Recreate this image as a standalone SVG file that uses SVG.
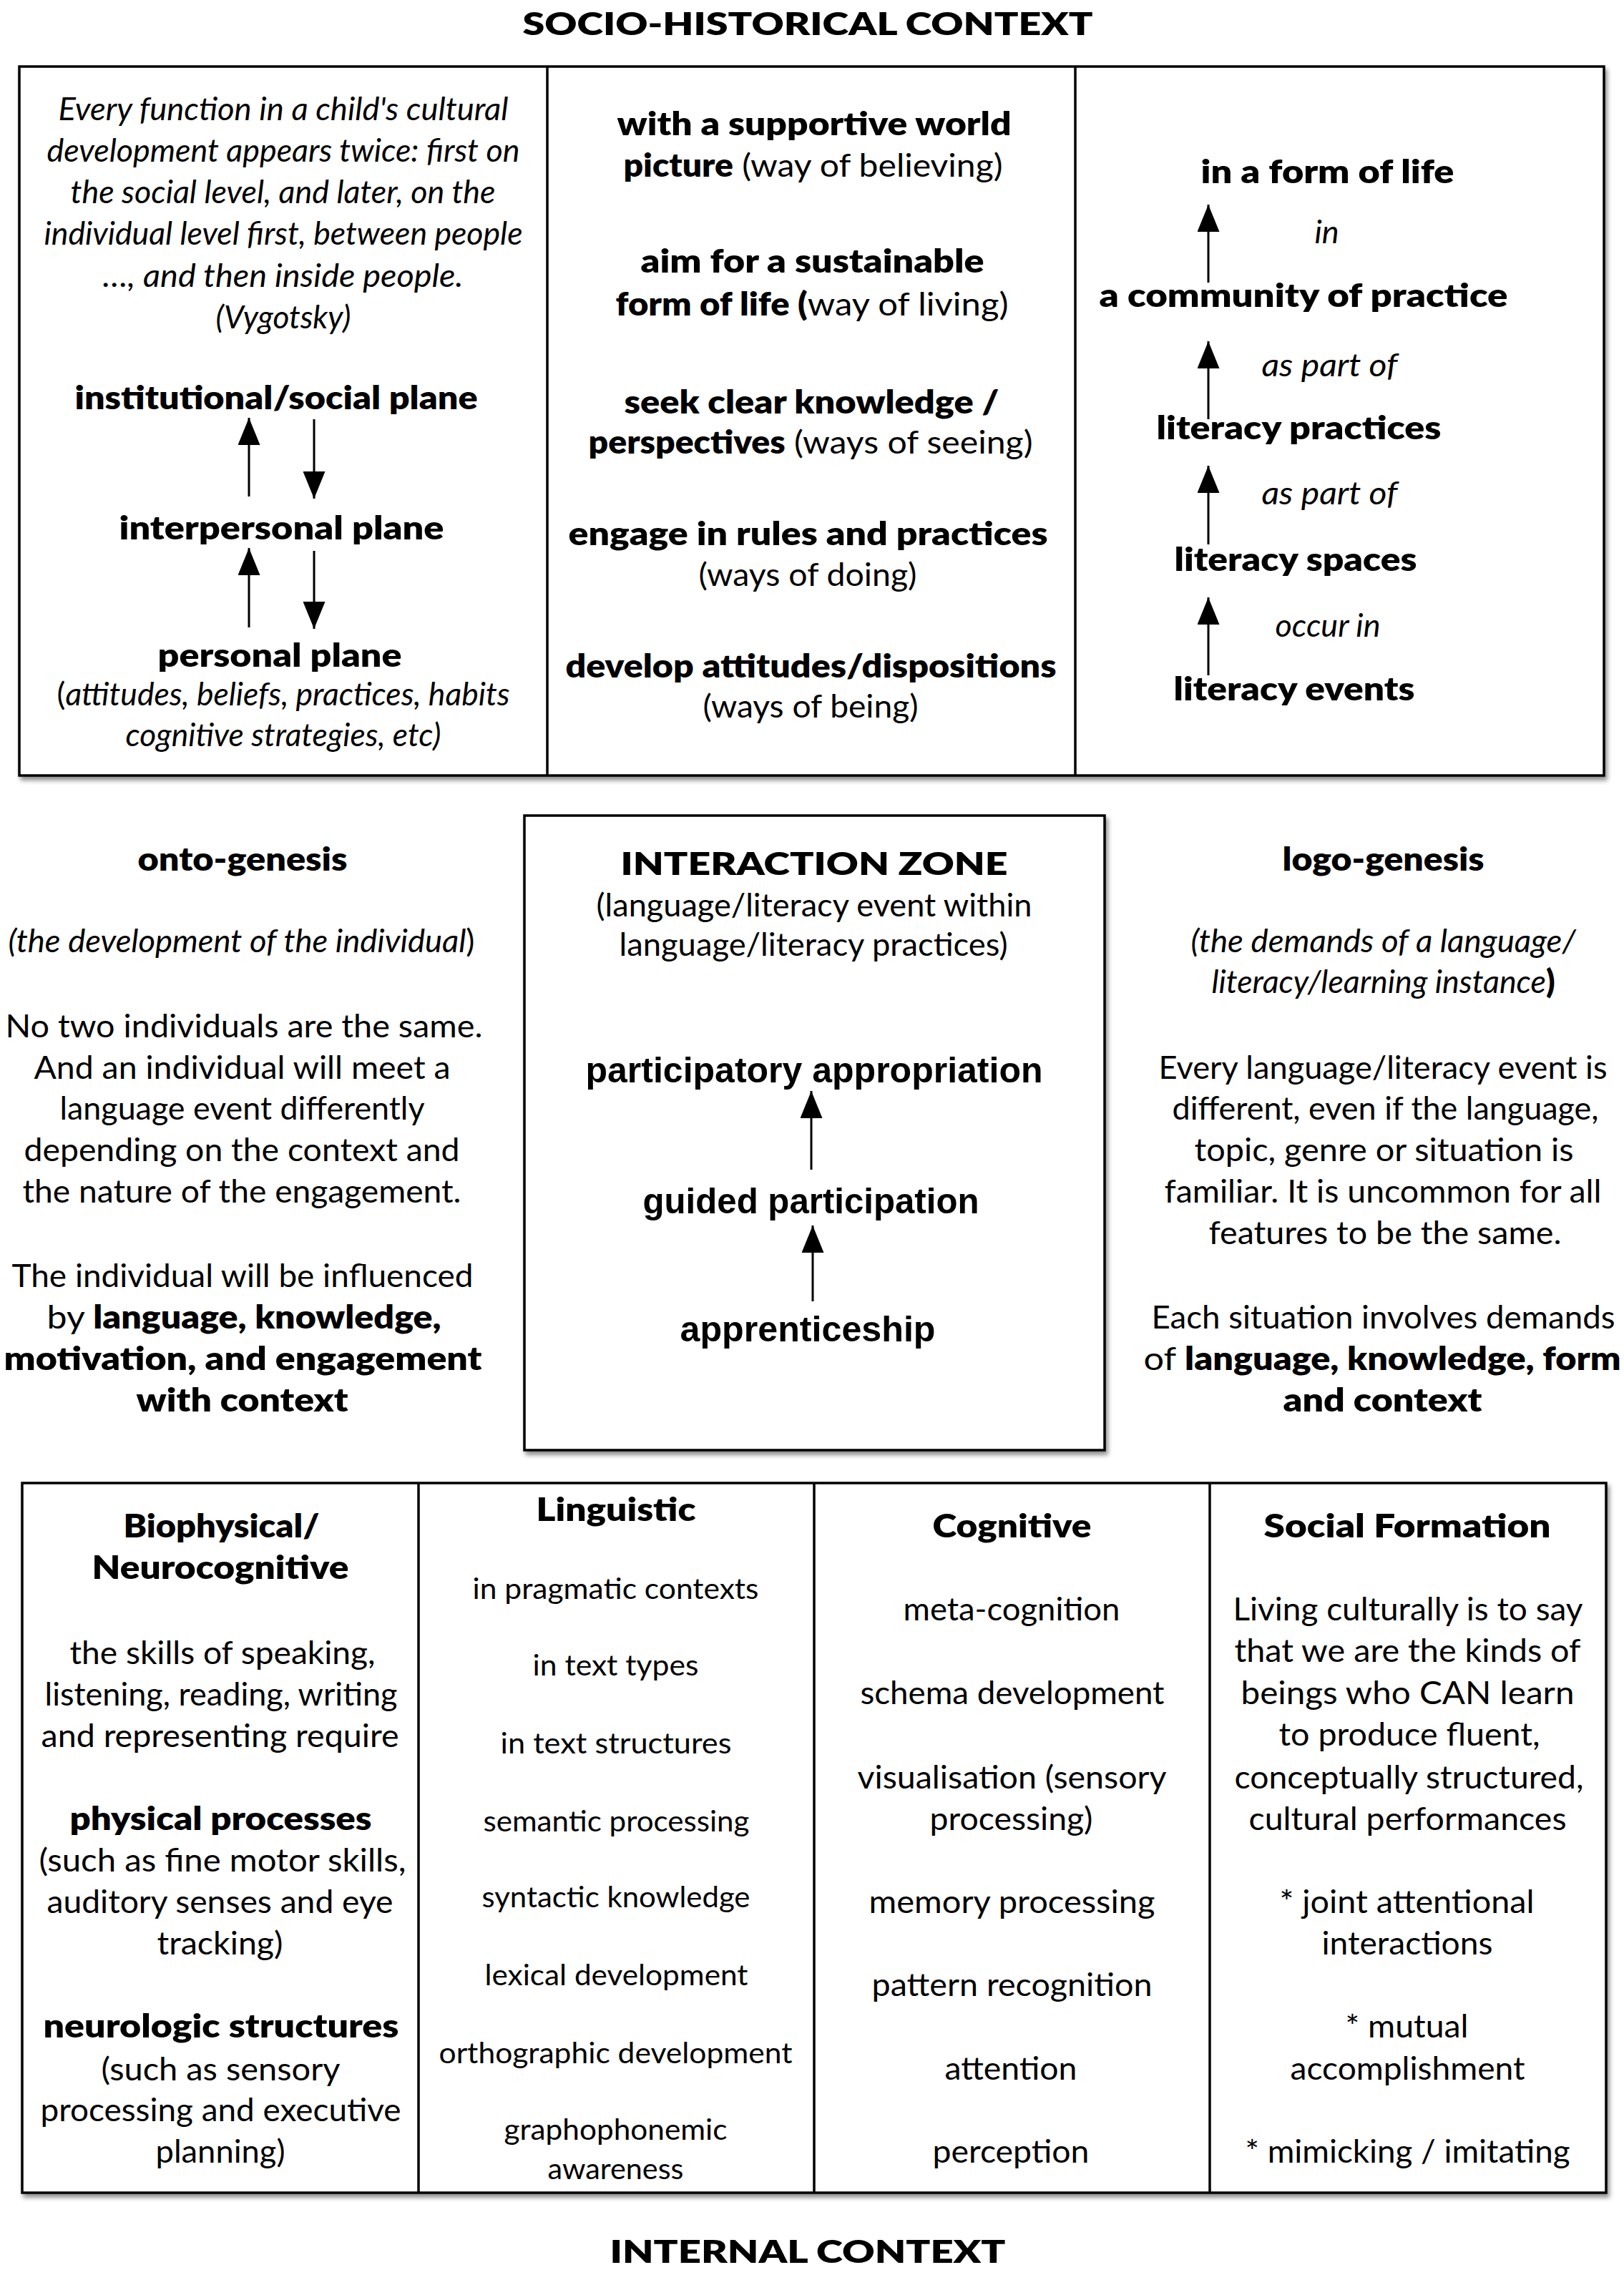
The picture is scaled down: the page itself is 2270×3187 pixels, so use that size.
<svg xmlns="http://www.w3.org/2000/svg" width="2270" height="3187" viewBox="0 0 2270 3187">
<defs>
<style>
text{font-family:Lato,"Open Sans","Liberation Sans",sans-serif;font-size:45px;fill:#000;text-anchor:middle}
.b{font-weight:800}
.i{font-style:italic}
.h{font-size:44px;font-weight:800}
.s{font-size:41px}
.a{font-family:"Liberation Sans",Arial,sans-serif;font-weight:bold;font-size:50px}
.frame{fill:#fff;stroke:#000;stroke-width:3.5}
.div{stroke:#000;stroke-width:3.5}
.arrow{stroke:#000;stroke-width:3;fill:none;marker-end:url(#ah)}
</style>
<filter id="sh" x="-5%" y="-5%" width="110%" height="110%">
<feDropShadow dx="3" dy="5" stdDeviation="3" flood-color="#000" flood-opacity="0.45"/>
</filter>
<marker id="ah" markerUnits="userSpaceOnUse" markerWidth="38" markerHeight="31" viewBox="0 0 38 31" refX="38" refY="15.5" orient="auto">
<path d="M0,0 L38,15.5 L0,31 z" fill="#000"/>
</marker>
</defs>
<rect width="2270" height="3187" fill="#fff"/>

<g id="title-socio-historical">
<text class="h" x="1129" y="49" textLength="797" lengthAdjust="spacingAndGlyphs">SOCIO-HISTORICAL CONTEXT</text>
</g>

<g id="socio-box">
<rect class="frame" x="27" y="93" width="2215" height="991" filter="url(#sh)"/>
<line class="div" x1="765" y1="93" x2="765" y2="1084"/>
<line class="div" x1="1503" y1="93" x2="1503" y2="1084"/>
</g>

<g id="vygotsky-planes">
<text class="i" x="396" y="168" textLength="629" lengthAdjust="spacingAndGlyphs">Every function in a child's cultural</text>
<text class="i" x="396" y="226" textLength="661" lengthAdjust="spacingAndGlyphs">development appears twice: first on</text>
<text class="i" x="395.5" y="284" textLength="594" lengthAdjust="spacingAndGlyphs">the social level, and later, on the</text>
<text class="i" x="396" y="342" textLength="669" lengthAdjust="spacingAndGlyphs">individual level first, between people</text>
<text class="i" x="395.5" y="401" textLength="504" lengthAdjust="spacingAndGlyphs">…, and then inside people.</text>
<text class="i" x="396" y="459" textLength="189" lengthAdjust="spacingAndGlyphs">(Vygotsky)</text>
<text class="b" x="386" y="572" textLength="563" lengthAdjust="spacingAndGlyphs">institutional/social plane</text>
<text class="b" x="393.5" y="754" textLength="454" lengthAdjust="spacingAndGlyphs">interpersonal plane</text>
<text class="b" x="391" y="932" textLength="341" lengthAdjust="spacingAndGlyphs">personal plane</text>
<text x="396" y="986" textLength="633" lengthAdjust="spacingAndGlyphs">(<tspan class="i">attitudes, beliefs, practices, habits</tspan></text>
<text class="i" x="396" y="1043" textLength="441" lengthAdjust="spacingAndGlyphs">cognitive strategies, etc)</text>
</g>

<g id="ways-of-being">
<text class="b" x="1138" y="189" textLength="551" lengthAdjust="spacingAndGlyphs">with a supportive world</text>
<text x="1136.5" y="247" textLength="530" lengthAdjust="spacingAndGlyphs"><tspan class="b">picture</tspan> (way of believing)</text>
<text class="b" x="1135.5" y="381" textLength="480" lengthAdjust="spacingAndGlyphs">aim for a sustainable</text>
<text x="1135" y="441" textLength="549" lengthAdjust="spacingAndGlyphs"><tspan class="b">form of life (</tspan>way of living)</text>
<text class="b" x="1134.5" y="578" textLength="524" lengthAdjust="spacingAndGlyphs">seek clear knowledge /</text>
<text x="1133" y="634" textLength="621" lengthAdjust="spacingAndGlyphs"><tspan class="b">perspectives</tspan> (ways of seeing)</text>
<text class="b" x="1129.5" y="762" textLength="670" lengthAdjust="spacingAndGlyphs">engage in rules and practices</text>
<text x="1129" y="819" textLength="305" lengthAdjust="spacingAndGlyphs">(ways of doing)</text>
<text class="b" x="1133.5" y="947" textLength="686" lengthAdjust="spacingAndGlyphs">develop attitudes/dispositions</text>
<text x="1133" y="1003" textLength="301" lengthAdjust="spacingAndGlyphs">(ways of being)</text>
</g>

<g id="literacy-hierarchy">
<text class="b" x="1855.5" y="256" textLength="354" lengthAdjust="spacingAndGlyphs">in a form of life</text>
<text class="i" x="1854.5" y="340">in</text>
<text class="b" x="1822" y="429" textLength="571" lengthAdjust="spacingAndGlyphs">a community of practice</text>
<text class="i" x="1858.5" y="526" textLength="190" lengthAdjust="spacingAndGlyphs">as part of</text>
<text class="b" x="1815.5" y="614" textLength="398" lengthAdjust="spacingAndGlyphs">literacy practices</text>
<text class="i" x="1858.5" y="705" textLength="190" lengthAdjust="spacingAndGlyphs">as part of</text>
<text class="b" x="1811" y="798" textLength="339" lengthAdjust="spacingAndGlyphs">literacy spaces</text>
<text class="i" x="1856" y="890" textLength="147" lengthAdjust="spacingAndGlyphs">occur in</text>
<text class="b" x="1809" y="979" textLength="337" lengthAdjust="spacingAndGlyphs">literacy events</text>
</g>

<g id="onto-genesis">
<text class="b" x="339" y="1217" textLength="293" lengthAdjust="spacingAndGlyphs">onto-genesis</text>
<text x="337.5" y="1331" textLength="652" lengthAdjust="spacingAndGlyphs"><tspan class="i">(the development of the individual</tspan>)</text>
<text x="341" y="1450" textLength="667" lengthAdjust="spacingAndGlyphs">No two individuals are the same.</text>
<text x="338.5" y="1508" textLength="582" lengthAdjust="spacingAndGlyphs">And an individual will meet a</text>
<text x="338.5" y="1565" textLength="510" lengthAdjust="spacingAndGlyphs">language event differently</text>
<text x="338" y="1623" textLength="609" lengthAdjust="spacingAndGlyphs">depending on the context and</text>
<text x="338" y="1681" textLength="613" lengthAdjust="spacingAndGlyphs">the nature of the engagement.</text>
<text x="339" y="1799" textLength="645" lengthAdjust="spacingAndGlyphs">The individual will be influenced</text>
<text x="341" y="1857" textLength="551" lengthAdjust="spacingAndGlyphs">by <tspan class="b">language, knowledge,</tspan></text>
<text class="b" x="339.5" y="1915" textLength="668" lengthAdjust="spacingAndGlyphs">motivation, and engagement</text>
<text class="b" x="338.5" y="1973" textLength="296" lengthAdjust="spacingAndGlyphs">with context</text>
</g>

<g id="interaction-zone">
<rect class="frame" x="733" y="1140" width="811" height="887" filter="url(#sh)"/>
<text class="h" x="1138" y="1223" textLength="541" lengthAdjust="spacingAndGlyphs">INTERACTION ZONE</text>
<text x="1138" y="1281" textLength="609" lengthAdjust="spacingAndGlyphs">(language/literacy event within</text>
<text x="1137" y="1336" textLength="543" lengthAdjust="spacingAndGlyphs">language/literacy practices)</text>
<text class="a" x="1138" y="1513" textLength="639" lengthAdjust="spacingAndGlyphs">participatory appropriation</text>
<text class="a" x="1133.5" y="1696" textLength="470" lengthAdjust="spacingAndGlyphs">guided participation</text>
<text class="a" x="1129" y="1875" textLength="357" lengthAdjust="spacingAndGlyphs">apprenticeship</text>
</g>

<g id="logo-genesis">
<text class="b" x="1933.5" y="1217" textLength="282" lengthAdjust="spacingAndGlyphs">logo-genesis</text>
<text class="i" x="1933.5" y="1331" textLength="538" lengthAdjust="spacingAndGlyphs">(the demands of a language/</text>
<text x="1933.5" y="1388" textLength="480" lengthAdjust="spacingAndGlyphs"><tspan class="i">literacy/learning instance</tspan><tspan class="b">)</tspan></text>
<text x="1933" y="1508" textLength="627" lengthAdjust="spacingAndGlyphs">Every language/literacy event is</text>
<text x="1936.5" y="1565" textLength="596" lengthAdjust="spacingAndGlyphs">different, even if the language,</text>
<text x="1934.5" y="1623" textLength="530" lengthAdjust="spacingAndGlyphs">topic, genre or situation is</text>
<text x="1933" y="1681" textLength="611" lengthAdjust="spacingAndGlyphs">familiar. It is uncommon for all</text>
<text x="1936" y="1739" textLength="493" lengthAdjust="spacingAndGlyphs">features to be the same.</text>
<text x="1933.5" y="1857" textLength="648" lengthAdjust="spacingAndGlyphs">Each situation involves demands</text>
<text x="1932" y="1915" textLength="667" lengthAdjust="spacingAndGlyphs">of <tspan class="b">language, knowledge, form</tspan></text>
<text class="b" x="1932.5" y="1973" textLength="278" lengthAdjust="spacingAndGlyphs">and context</text>
</g>

<g id="internal-box">
<rect class="frame" x="31" y="2073" width="2214" height="992" filter="url(#sh)"/>
<line class="div" x1="585" y1="2073" x2="585" y2="3065"/>
<line class="div" x1="1138" y1="2073" x2="1138" y2="3065"/>
<line class="div" x1="1691" y1="2073" x2="1691" y2="3065"/>
</g>

<g id="biophysical">
<text class="b" x="309.5" y="2149" textLength="274" lengthAdjust="spacingAndGlyphs">Biophysical/</text>
<text class="b" x="308" y="2207" textLength="359" lengthAdjust="spacingAndGlyphs">Neurocognitive</text>
<text x="311" y="2326" textLength="427" lengthAdjust="spacingAndGlyphs">the skills of speaking,</text>
<text x="309" y="2384" textLength="493" lengthAdjust="spacingAndGlyphs">listening, reading, writing</text>
<text x="307.5" y="2442" textLength="500" lengthAdjust="spacingAndGlyphs">and representing require</text>
<text class="b" x="308.5" y="2558" textLength="422" lengthAdjust="spacingAndGlyphs">physical processes</text>
<text x="311" y="2616" textLength="513" lengthAdjust="spacingAndGlyphs">(such as fine motor skills,</text>
<text x="307.5" y="2674" textLength="484" lengthAdjust="spacingAndGlyphs">auditory senses and eye</text>
<text x="307.5" y="2732" textLength="176" lengthAdjust="spacingAndGlyphs">tracking)</text>
<text class="b" x="309" y="2848" textLength="497" lengthAdjust="spacingAndGlyphs">neurologic structures</text>
<text x="308.5" y="2908" textLength="334" lengthAdjust="spacingAndGlyphs">(such as sensory</text>
<text x="308.5" y="2965" textLength="504" lengthAdjust="spacingAndGlyphs">processing and executive</text>
<text x="308" y="3023" textLength="181" lengthAdjust="spacingAndGlyphs">planning)</text>
</g>

<g id="linguistic">
<text class="b" x="861" y="2126" textLength="223" lengthAdjust="spacingAndGlyphs">Linguistic</text>
<text class="s" x="860.5" y="2235" textLength="400" lengthAdjust="spacingAndGlyphs">in pragmatic contexts</text>
<text class="s" x="860.5" y="2342" textLength="232" lengthAdjust="spacingAndGlyphs">in text types</text>
<text class="s" x="861" y="2451" textLength="323" lengthAdjust="spacingAndGlyphs">in text structures</text>
<text class="s" x="861.5" y="2560" textLength="372" lengthAdjust="spacingAndGlyphs">semantic processing</text>
<text class="s" x="861" y="2666" textLength="375" lengthAdjust="spacingAndGlyphs">syntactic knowledge</text>
<text class="s" x="861.5" y="2775" textLength="368" lengthAdjust="spacingAndGlyphs">lexical development</text>
<text class="s" x="860.5" y="2884" textLength="494" lengthAdjust="spacingAndGlyphs">orthographic development</text>
<text class="s" x="860.5" y="2991" textLength="312" lengthAdjust="spacingAndGlyphs">graphophonemic</text>
<text class="s" x="860.5" y="3046" textLength="190" lengthAdjust="spacingAndGlyphs">awareness</text>
</g>

<g id="cognitive">
<text class="b" x="1414.5" y="2149" textLength="222" lengthAdjust="spacingAndGlyphs">Cognitive</text>
<text x="1414" y="2265" textLength="303" lengthAdjust="spacingAndGlyphs">meta-cognition</text>
<text x="1415" y="2382" textLength="425" lengthAdjust="spacingAndGlyphs">schema development</text>
<text x="1414.5" y="2500" textLength="432" lengthAdjust="spacingAndGlyphs">visualisation (sensory</text>
<text x="1413.5" y="2558" textLength="228" lengthAdjust="spacingAndGlyphs">processing)</text>
<text x="1414.5" y="2674" textLength="400" lengthAdjust="spacingAndGlyphs">memory processing</text>
<text x="1414.5" y="2790" textLength="392" lengthAdjust="spacingAndGlyphs">pattern recognition</text>
<text x="1413" y="2907" textLength="185" lengthAdjust="spacingAndGlyphs">attention</text>
<text x="1413" y="3023" textLength="219" lengthAdjust="spacingAndGlyphs">perception</text>
</g>

<g id="social-formation">
<text class="b" x="1967" y="2149" textLength="401" lengthAdjust="spacingAndGlyphs">Social Formation</text>
<text x="1968" y="2265" textLength="489" lengthAdjust="spacingAndGlyphs">Living culturally is to say</text>
<text x="1967.5" y="2323" textLength="484" lengthAdjust="spacingAndGlyphs">that we are the kinds of</text>
<text x="1967.5" y="2382" textLength="466" lengthAdjust="spacingAndGlyphs">beings who CAN learn</text>
<text x="1970" y="2440" textLength="365" lengthAdjust="spacingAndGlyphs">to produce fluent,</text>
<text x="1969.5" y="2500" textLength="488" lengthAdjust="spacingAndGlyphs">conceptually structured,</text>
<text x="1967.5" y="2558" textLength="444" lengthAdjust="spacingAndGlyphs">cultural performances</text>
<text x="1966.5" y="2674" textLength="356" lengthAdjust="spacingAndGlyphs">* joint attentional</text>
<text x="1967" y="2732" textLength="239" lengthAdjust="spacingAndGlyphs">interactions</text>
<text x="1966.5" y="2848" textLength="172" lengthAdjust="spacingAndGlyphs">* mutual</text>
<text x="1967.5" y="2907" textLength="328" lengthAdjust="spacingAndGlyphs">accomplishment</text>
<text x="1967.5" y="3023" textLength="454" lengthAdjust="spacingAndGlyphs">* mimicking / imitating</text>
</g>

<g id="title-internal">
<text class="h" x="1129" y="3163" textLength="553" lengthAdjust="spacingAndGlyphs">INTERNAL CONTEXT</text>
</g>

<g id="connectors">
<line class="arrow" x1="348" y1="694" x2="348" y2="584"/>
<line class="arrow" x1="439" y1="586" x2="439" y2="697"/>
<line class="arrow" x1="348" y1="877" x2="348" y2="766"/>
<line class="arrow" x1="439" y1="770" x2="439" y2="879"/>
<line class="arrow" x1="1689" y1="395" x2="1689" y2="286"/>
<line class="arrow" x1="1689" y1="586" x2="1689" y2="477"/>
<line class="arrow" x1="1689" y1="761" x2="1689" y2="651"/>
<line class="arrow" x1="1689" y1="944" x2="1689" y2="835"/>
<line class="arrow" x1="1134" y1="1635" x2="1134" y2="1525"/>
<line class="arrow" x1="1136" y1="1819" x2="1136" y2="1713"/>
</g>
</svg>
